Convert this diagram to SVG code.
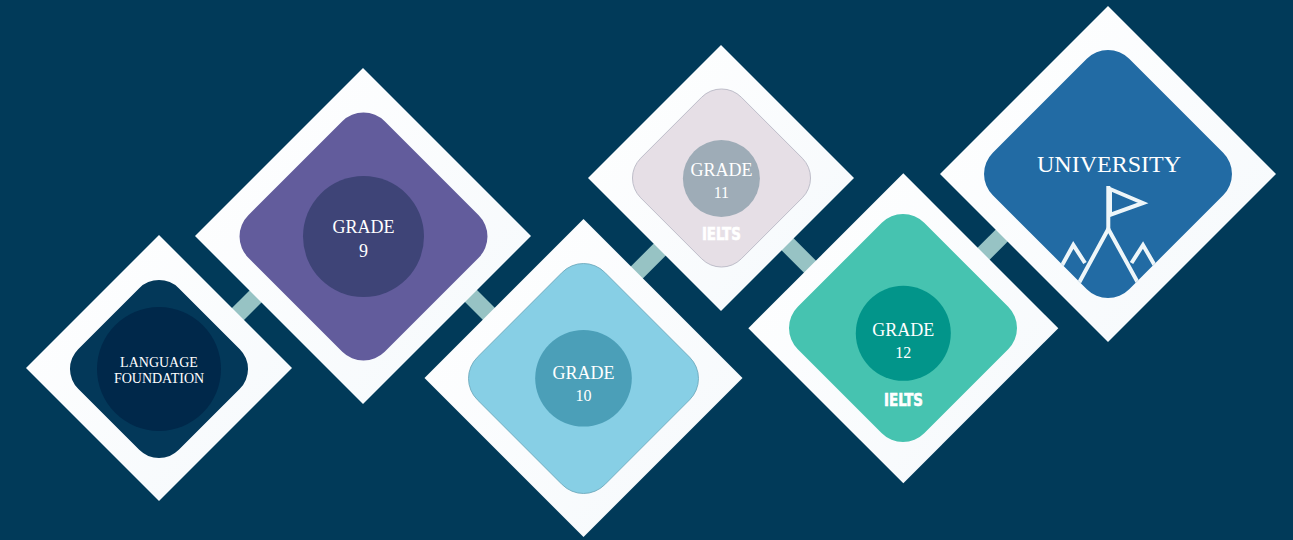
<svg xmlns="http://www.w3.org/2000/svg" width="1293" height="540" viewBox="0 0 1293 540">
  <defs>
    <linearGradient id="outerGrad" x1="0" y1="0" x2="1" y2="1">
      <stop offset="0" stop-color="#ffffff"/>
      <stop offset="1" stop-color="#f5f9fc"/>
    </linearGradient>
    <clipPath id="uniClip">
      <rect x="-96.45" y="-96.45" width="192.9" height="192.9" rx="30" transform="translate(1108 174) rotate(45)"/>
    </clipPath>
    <style>
      .outer { fill: url(#outerGrad); }
      .serif { font-family: "Liberation Serif", "DejaVu Serif", serif; fill: #ffffff; text-anchor: middle; }
      .ielts { font-family: "DejaVu Sans", "Liberation Sans", sans-serif; font-weight: bold; font-stretch: condensed; font-size: 17px; fill: #ffffff; stroke: #ffffff; stroke-width: 0.6; text-anchor: middle; }
      .bar { stroke: #97c3c4; stroke-width: 17; stroke-linecap: butt; fill: none; }
      .icon { stroke: #eef6f9; stroke-width: 4; fill: none; stroke-linejoin: miter; stroke-linecap: butt; }
    </style>
  </defs>

  <rect x="0" y="0" width="1293" height="540" fill="#013a59"/>

  <g id="connectors">
    <line class="bar" x1="226.7" y1="325.3" x2="266.7" y2="285.3"/>
    <line class="bar" x1="460" y1="285" x2="500" y2="325"/>
    <line class="bar" x1="626.3" y1="283" x2="670.3" y2="239"/>
    <line class="bar" x1="777" y1="233.7" x2="821" y2="277.7"/>
    <line class="bar" x1="970.3" y1="267" x2="1014.3" y2="223"/>
  </g>

  <g id="language-foundation">
    <polygon class="outer" points="159,235 292,368 159,501 26,368"/>
    <rect x="-71.15" y="-71.15" width="142.3" height="142.3" rx="28" fill="#033859" transform="translate(159 369) rotate(45)"/>
    <circle cx="159" cy="369" r="62" fill="#00284a"/>
    <text class="serif" x="159" y="367" font-size="14">LANGUAGE</text>
    <text class="serif" x="159" y="383" font-size="14">FOUNDATION</text>
  </g>

  <g id="grade-9">
    <polygon class="outer" points="363,68 531,236 363,404 195,236"/>
    <rect x="-96.45" y="-96.45" width="192.9" height="192.9" rx="30" fill="#625c9c" transform="translate(363.5 236.5) rotate(45)"/>
    <circle cx="363.5" cy="236.5" r="60.5" fill="#3e4477"/>
    <text class="serif" x="363.5" y="232.5" font-size="18">GRADE</text>
    <text class="serif" x="363.5" y="256.5" font-size="18">9</text>
  </g>

  <g id="grade-10">
    <polygon class="outer" points="583.5,219 742.5,378 583.5,537 424.5,378"/>
    <rect x="-90.1" y="-90.1" width="180.2" height="180.2" rx="30" fill="#87cfe5" stroke="#6aa6b9" stroke-width="0.8" transform="translate(583.5 378.5) rotate(45)"/>
    <circle cx="583.5" cy="378.3" r="48.3" fill="#4b9fb8"/>
    <text class="serif" x="583.5" y="378.5" font-size="18">GRADE</text>
    <text class="serif" x="583.5" y="400.5" font-size="16">10</text>
  </g>

  <g id="grade-11">
    <polygon class="outer" points="721,45 854,178 721,311 588,178"/>
    <rect x="-71.15" y="-71.15" width="142.3" height="142.3" rx="28" fill="#e6dfe6" stroke="#b5b5c2" stroke-width="0.8" transform="translate(721.5 178) rotate(45)"/>
    <circle cx="721.4" cy="178.5" r="38.5" fill="#9eacb7"/>
    <text class="serif" x="721.4" y="176" font-size="18">GRADE</text>
    <text class="serif" x="721.4" y="198" font-size="16">11</text>
    <text class="ielts" x="721.4" y="240" textLength="39" lengthAdjust="spacingAndGlyphs">IELTS</text>
  </g>

  <g id="grade-12">
    <polygon class="outer" points="903.3,173.3 1058.3,328.3 903.3,483.3 748.3,328.3"/>
    <rect x="-89.4" y="-89.4" width="178.8" height="178.8" rx="30" fill="#46c3b0" transform="translate(903 328) rotate(45)"/>
    <circle cx="903.3" cy="333.3" r="47.5" fill="#02958a"/>
    <text class="serif" x="903.3" y="335.7" font-size="18">GRADE</text>
    <text class="serif" x="903.3" y="358.3" font-size="16">12</text>
    <text class="ielts" x="903.5" y="405.7" textLength="39" lengthAdjust="spacingAndGlyphs">IELTS</text>
  </g>

  <g id="university">
    <polygon class="outer" points="1108,6 1276,174 1108,342 940,174"/>
    <rect x="-96.45" y="-96.45" width="192.9" height="192.9" rx="30" fill="#226ba4" transform="translate(1108 174) rotate(45)"/>
    <text class="serif" x="1109" y="172" font-size="24">UNIVERSITY</text>
    <g clip-path="url(#uniClip)">
      <line class="icon" x1="1108.3" y1="186" x2="1108.3" y2="229"/>
      <polygon class="icon" points="1110,189 1143,203 1110,215"/>
      <polyline class="icon" points="1074,292 1108.3,229 1143,292"/>
      <polyline class="icon" points="1055,278 1073.3,245 1085,263"/>
      <polyline class="icon" points="1131.5,263 1143,245 1162,278"/>
    </g>
  </g>
</svg>
